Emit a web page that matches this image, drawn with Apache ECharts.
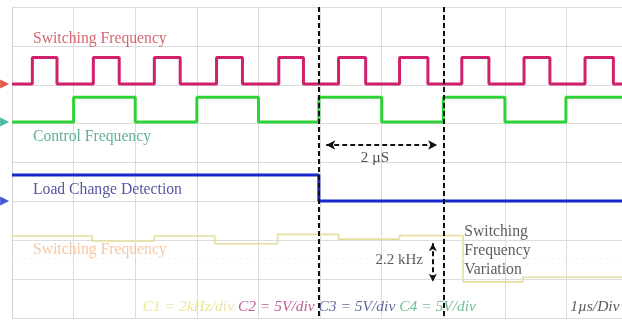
<!DOCTYPE html>
<html><head><meta charset="utf-8">
<script src="https://cdn.jsdelivr.net/npm/echarts@6/dist/echarts.min.js"></script>
<style>html,body{margin:0;padding:0;background:#fff}#c{width:622px;height:320px}</style>
</head><body><div id="c"></div>
<script>
// time axis: microseconds (1 µs/div), vertical: screen divisions
const swTimes   = [0, 0.33, 0.73, 1.32, 1.74, 2.31, 2.73, 3.32, 3.74, 4.33, 4.73, 5.30, 5.74, 6.29, 6.75, 7.30, 7.74, 8.31, 8.73, 9.30, 9.76];
const swLevels  = [6.02, 6.70, 6.02, 6.70, 6.02, 6.70, 6.02, 6.70, 6.02, 6.70, 6.02, 6.70, 6.02, 6.70, 6.02, 6.70, 6.02, 6.70, 6.02, 6.70, 6.02];
const ctlTimes  = [0, 1.0, 2.0, 3.0, 4.0, 4.98, 6.0, 7.0, 8.0, 8.99];
const ctlLevels = [5.04, 5.68, 5.04, 5.68, 5.04, 5.68, 5.04, 5.68, 5.04, 5.68];
const loadTimes  = [0, 4.98];
const loadLevels = [3.68, 3.01];
const freqTimes  = [0, 1.30, 2.31, 3.29, 4.31, 5.30, 6.29, 7.32, 8.29];
const freqLevels = [2.11, 1.98, 2.11, 1.91, 2.15, 2.03, 2.12, 0.93, 1.05];
const tEnd = 9.9;
const cursorTimes = [4.98, 7.0];
const channelNames = ['Switching Frequency', 'Control Frequency', 'Load Change Detection', 'Switching Frequency'];
const scaleTexts = ['C1 = 2kHz/div ', 'C2 = 5V/div ', 'C3 = 5V/div ', 'C4 = 5V/div'];
const timebaseText = '1µs/Div';

function steps(ts, vs){
  const d = ts.map((t,i)=>[t, vs[i]]);
  d.push([tEnd, vs[vs.length-1]]);
  return d;
}
const serif = '"Liberation Serif","DejaVu Serif",serif';
const FS = 15.7;
function txt(x, y, text, color, extra){
  return {value:[x,y], label:Object.assign({show:true, position:'right', distance:0, formatter:text,
    color:color, fontFamily:serif, fontSize:FS}, extra||{})};
}
const chart = echarts.init(document.getElementById('c'), null, {renderer:'canvas'});
const traceBase = {type:'line', step:'end', showSymbol:false, symbol:'none', animation:false, silent:true};
chart.setOption({
  animation:false,
  backgroundColor:'#fff',
  grid:{left:12, right:0, top:7, bottom:2},
  xAxis:{type:'value', min:0, max:tEnd, interval:1,
    axisLabel:{show:false}, axisTick:{show:false},
    axisLine:{show:false},
    splitLine:{show:true, lineStyle:{color:'#dcdcdc', width:1}}},
  yAxis:{type:'value', min:0, max:8, interval:1,
    axisLabel:{show:false}, axisTick:{show:false},
    axisLine:{show:true, lineStyle:{color:'#d0d0d0'}},
    splitLine:{show:true, lineStyle:{color:'#dcdcdc', width:1}}},
  series:[
    Object.assign({}, traceBase, {name:'C1', data:steps(freqTimes, freqLevels),
      lineStyle:{color:'#e4dfa0', width:1.6}, z:3,
      markLine:{silent:true, symbol:'none', animation:false, label:{show:false},
        lineStyle:{color:'#eeeeee', type:[2,4], width:1},
        data:[{yAxis:1.54}]}}),
    Object.assign({}, traceBase, {name:'C2', data:steps(swTimes, swLevels),
      lineStyle:{color:'#d0206c', width:3}, z:4}),
    Object.assign({}, traceBase, {name:'C4', data:steps(ctlTimes, ctlLevels),
      lineStyle:{color:'#2ed236', width:3}, z:4}),
    Object.assign({}, traceBase, {name:'C3', data:steps(loadTimes, loadLevels),
      lineStyle:{color:'#1428cc', width:3}, z:4,
      markLine:{silent:true, animation:false, label:{show:false}, z:6,
        data:[
          [{coord:[cursorTimes[0], 8], symbol:'none'}, {coord:[cursorTimes[0], 0], symbol:'none'}],
          [{coord:[cursorTimes[1], 8], symbol:'none'}, {coord:[cursorTimes[1], 0], symbol:'none'}],
          [{coord:[5.10, 4.45], symbol:'arrow', symbolSize:[7,9]}, {coord:[6.90, 4.45], symbol:'arrow', symbolSize:[7,9]}],
          [{coord:[6.83, 1.92], symbol:'arrow', symbolSize:[6,8]}, {coord:[6.83, 0.93], symbol:'arrow', symbolSize:[6,8]}]
        ],
        lineStyle:{color:'#111', type:[5,3], width:2}}}),
    {type:'scatter', name:'markers', clip:false, silent:true, animation:false, symbol:'triangle', symbolRotate:-90, symbolSize:9,
      data:[
        {value:[-0.12, swLevels[0]], itemStyle:{color:'#e0301c'}},
        {value:[-0.12, ctlLevels[0]], itemStyle:{color:'#1ea88a'}},
        {value:[-0.12, loadLevels[1]], itemStyle:{color:'#1030d0'}}
      ], z:5},
    {type:'scatter', name:'texts', clip:false, silent:true, animation:false, symbolSize:0, z:7,
      data:[
        txt(0.34, 7.19, channelNames[0], '#c8404c'),
        txt(0.34, 4.65, channelNames[1], '#3a9c7c'),
        txt(0.34, 3.29, channelNames[2], '#2a2c8c'),
        txt(0.34, 1.75, channelNames[3], '#f2b98e'),
        txt(5.66, 4.11, '2 µS', '#222', {fontSize:15}),
        txt(5.90, 1.49, '2.2 kHz', '#333', {fontSize:15}),
        txt(7.34, 1.72, 'Switching\nFrequency\nVariation', '#333', {lineHeight:19}),
        {value:[2.12, 0.28], label:{show:true, position:'right', distance:0,
          formatter:'{a|'+scaleTexts[0]+'}{b|'+scaleTexts[1]+'}{c|'+scaleTexts[2]+'}{d|'+scaleTexts[3]+'}',
          rich:{
            a:{color:'#e8dc82', fontFamily:serif, fontStyle:'italic', fontSize:15.5},
            b:{color:'#b0307e', fontFamily:serif, fontStyle:'italic', fontSize:15.5},
            c:{color:'#3a4282', fontFamily:serif, fontStyle:'italic', fontSize:15.5},
            d:{color:'#4cae78', fontFamily:serif, fontStyle:'italic', fontSize:15.5}
          }}},
        {value:[9.86, 0.28], label:{show:true, position:'left', distance:0, formatter:timebaseText,
          color:'#333', fontFamily:serif, fontStyle:'italic', fontSize:15.5}}
      ]}
  ]
});
</script>
</body></html>
